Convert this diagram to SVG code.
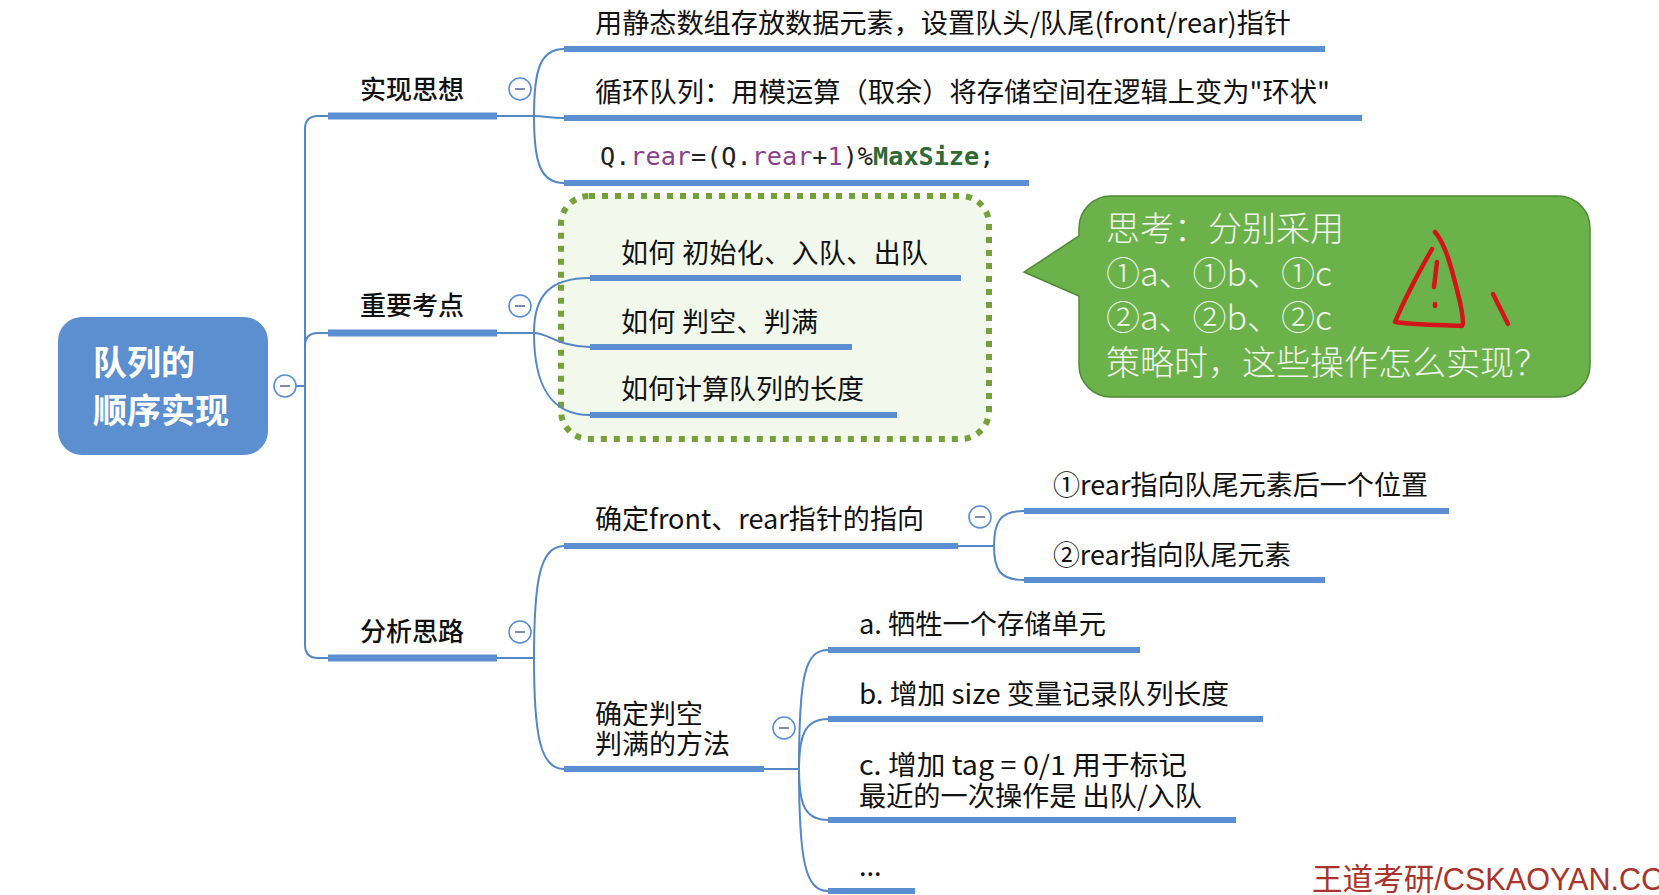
<svg xmlns="http://www.w3.org/2000/svg" width="1659" height="895" viewBox="0 0 1659 895">
<style>
.bg{fill:#ffffff}
.conn{fill:none;stroke:#5586c6;stroke-width:2;stroke-linecap:round}
.ul1{stroke:#5b8fd2;stroke-width:7}
.ul{stroke:#5b8fd2;stroke-width:6}
.tc{font-family:"Noto Sans CJK SC","Liberation Sans",sans-serif;fill:#111}
.l1{font-size:26px;font-weight:500}
.lf{font-size:27px}
.root{font-family:"Noto Sans CJK SC","Liberation Sans",sans-serif;font-size:34px;font-weight:700;fill:#ffffff}
.col circle{fill:#ffffff;stroke:#5b8fd2;stroke-width:1.6}
.col line{stroke:#7d8db0;stroke-width:2}
.code{font-family:"DejaVu Sans Mono","Liberation Mono",monospace;font-size:25.2px;fill:#222}
.kw{fill:#8b3f8f}
.cls{fill:#2f6a35;font-weight:700}
.call{font-family:"Noto Sans CJK SC","Liberation Sans",sans-serif;font-size:34px;font-weight:300;fill:#f3f5ef}
.red{fill:none;stroke:#d4141a;stroke-width:4.5;stroke-linecap:round;stroke-linejoin:round}
</style>
<rect class="bg" x="0" y="0" width="1659" height="895"/>

<g id="focus-box">
<rect x="561" y="196" width="428" height="243" rx="28" fill="#f2f8ec" stroke="#76a13a" stroke-width="6" stroke-dasharray="6 7"/>
</g>

<g id="connectors">
<path class="conn" d="M296,386 H305"/>
<path class="conn" d="M330,116 H318 Q305,116 305,129 V645 Q305,658 318,658 H330"/>
<path class="conn" d="M305,346 Q305,333 318,333 H330"/>
<path class="conn" d="M497,116 H534"/>
<path class="conn" d="M534,116 C534,70 540,49 564,49"/>
<path class="conn" d="M534,116 C545,116 550,118 564,118"/>
<path class="conn" d="M534,116 C534,162 540,183 564,183"/>
<path class="conn" d="M497,333 H534"/>
<path class="conn" d="M534,333 C534,295 550,278 590,278"/>
<path class="conn" d="M534,333 C548,333 560,347 590,347"/>
<path class="conn" d="M534,333 C534,385 550,415 590,415"/>
<path class="conn" d="M497,658 H534"/>
<path class="conn" d="M534,658 C534,580 540,546 564,546"/>
<path class="conn" d="M534,658 C534,735 540,769 564,769"/>
<path class="conn" d="M958,546 H994"/>
<path class="conn" d="M994,546 C994,522 1000,511 1024,511"/>
<path class="conn" d="M994,546 C994,570 1000,580 1024,580"/>
<path class="conn" d="M764,769 H799"/>
<path class="conn" d="M799,769 C799,675 805,650 828,650"/>
<path class="conn" d="M799,769 C799,735 805,719 828,719"/>
<path class="conn" d="M799,769 C799,805 805,820 828,820"/>
<path class="conn" d="M799,769 C799,860 805,891 828,891"/>
</g>

<g id="root">
<rect x="58" y="317" width="210" height="138" rx="24" fill="#5b8fd0"/>
<text class="root" x="93" y="375">队列的</text>
<text class="root" x="93" y="423">顺序实现</text>
<g class="col"><circle cx="285" cy="386" r="11"/><line x1="280" y1="386" x2="290" y2="386"/></g>
</g>

<g id="n-impl">
<line class="ul1" x1="328" y1="116" x2="497" y2="116"/>
<text class="tc l1" x="360" y="99">实现思想</text>
<g class="col"><circle cx="520" cy="89" r="11"/><line x1="515" y1="89" x2="525" y2="89"/></g>
</g>
<g id="n-impl-1">
<line class="ul" x1="564" y1="49" x2="1325" y2="49"/>
<text class="tc lf" x="595" y="33" textLength="696" lengthAdjust="spacingAndGlyphs">用静态数组存放数据元素，设置队头/队尾(front/rear)指针</text>
</g>
<g id="n-impl-2">
<line class="ul" x1="564" y1="118" x2="1362" y2="118"/>
<text class="tc lf" x="595" y="102" textLength="735" lengthAdjust="spacingAndGlyphs">循环队列：用模运算（取余）将存储空间在逻辑上变为"环状"</text>
</g>
<g id="n-impl-3">
<line class="ul" x1="564" y1="183" x2="1029" y2="183"/>
<text class="code" x="600" y="165">Q.<tspan class="kw">rear</tspan>=(Q.<tspan class="kw">rear</tspan>+<tspan class="kw">1</tspan>)%<tspan class="cls">MaxSize</tspan>;</text>
</g>

<g id="n-key">
<line class="ul1" x1="328" y1="333" x2="497" y2="333"/>
<text class="tc l1" x="360" y="315">重要考点</text>
<g class="col"><circle cx="520" cy="306" r="11"/><line x1="515" y1="306" x2="525" y2="306"/></g>
</g>
<g id="n-key-1">
<line class="ul" x1="590" y1="278" x2="961" y2="278"/>
<text class="tc lf" x="621" y="263" textLength="307" lengthAdjust="spacing">如何 初始化、入队、出队</text>
</g>
<g id="n-key-2">
<line class="ul" x1="590" y1="347" x2="852" y2="347"/>
<text class="tc lf" x="621" y="332" textLength="197" lengthAdjust="spacing">如何 判空、判满</text>
</g>
<g id="n-key-3">
<line class="ul" x1="590" y1="415" x2="897" y2="415"/>
<text class="tc lf" x="621" y="399">如何计算队列的长度</text>
</g>

<g id="callout">
<path d="M1111,196 H1558 A32,32 0 0 1 1590,228 V365 A32,32 0 0 1 1558,397 H1111 A32,32 0 0 1 1079,365 V296 L1024,272 L1079,236 V228 A32,32 0 0 1 1111,196 Z" fill="#6cb24b" stroke="#4d8b34" stroke-width="1.5"/>
<text class="call" x="1106" y="241">思考：分别采用</text>
<text class="call" x="1106" y="286">①a、①b、①c</text>
<text class="call" x="1106" y="330">②a、②b、②c</text>
<text class="call" x="1106" y="375">策略时，这些操作怎么实现？</text>
<path class="red" d="M1432,249 C1420,270 1405,298 1395,322 C1415,325 1440,325 1462,326"/>
<path class="red" d="M1435,232 C1446,245 1452,270 1457,290 C1461,305 1463,316 1463,324"/>
<path class="red" d="M1437,262 L1434,287"/>
<path class="red" d="M1435,304 L1435,306"/>
<path class="red" d="M1493,294 L1508,324"/>
</g>

<g id="n-ana">
<line class="ul1" x1="328" y1="658" x2="497" y2="658"/>
<text class="tc l1" x="360" y="641">分析思路</text>
<g class="col"><circle cx="520" cy="632" r="11"/><line x1="515" y1="632" x2="525" y2="632"/></g>
</g>
<g id="n-ptr">
<line class="ul" x1="564" y1="546" x2="958" y2="546"/>
<text class="tc lf" x="595" y="529" textLength="329" lengthAdjust="spacingAndGlyphs">确定front、rear指针的指向</text>
<g class="col"><circle cx="980" cy="517" r="11"/><line x1="975" y1="517" x2="985" y2="517"/></g>
</g>
<g id="n-ptr-1">
<line class="ul" x1="1024" y1="511" x2="1449" y2="511"/>
<text class="tc lf" x="1053" y="495" textLength="375" lengthAdjust="spacingAndGlyphs">①rear指向队尾元素后一个位置</text>
</g>
<g id="n-ptr-2">
<line class="ul" x1="1024" y1="580" x2="1325" y2="580"/>
<text class="tc lf" x="1053" y="565" textLength="238" lengthAdjust="spacingAndGlyphs">②rear指向队尾元素</text>
</g>
<g id="n-full">
<line class="ul" x1="564" y1="769" x2="764" y2="769"/>
<text class="tc lf" x="595" y="724">确定判空</text>
<text class="tc lf" x="595" y="754">判满的方法</text>
<g class="col"><circle cx="784" cy="728" r="11"/><line x1="779" y1="728" x2="789" y2="728"/></g>
</g>
<g id="n-full-a">
<line class="ul" x1="828" y1="650" x2="1140" y2="650"/>
<text class="tc lf" x="859" y="634" textLength="247" lengthAdjust="spacingAndGlyphs">a. 牺牲一个存储单元</text>
</g>
<g id="n-full-b">
<line class="ul" x1="828" y1="719" x2="1263" y2="719"/>
<text class="tc lf" x="859" y="704" textLength="370" lengthAdjust="spacingAndGlyphs">b. 增加 size 变量记录队列长度</text>
</g>
<g id="n-full-c">
<line class="ul" x1="828" y1="820" x2="1236" y2="820"/>
<text class="tc lf" x="859" y="775" textLength="328" lengthAdjust="spacingAndGlyphs">c. 增加 tag = 0/1 用于标记</text>
<text class="tc lf" x="859" y="806" textLength="343" lengthAdjust="spacingAndGlyphs">最近的一次操作是 出队/入队</text>
</g>
<g id="n-full-d">
<line class="ul" x1="828" y1="891" x2="915" y2="891"/>
<text class="tc lf" x="859" y="876">...</text>
</g>

<g id="watermark">
<text x="1312" y="890" font-family="Liberation Sans,Noto Sans CJK SC,sans-serif" font-size="30.6" fill="#a9342b">王道考研/CSKAOYAN.CO</text>
</g>
</svg>
